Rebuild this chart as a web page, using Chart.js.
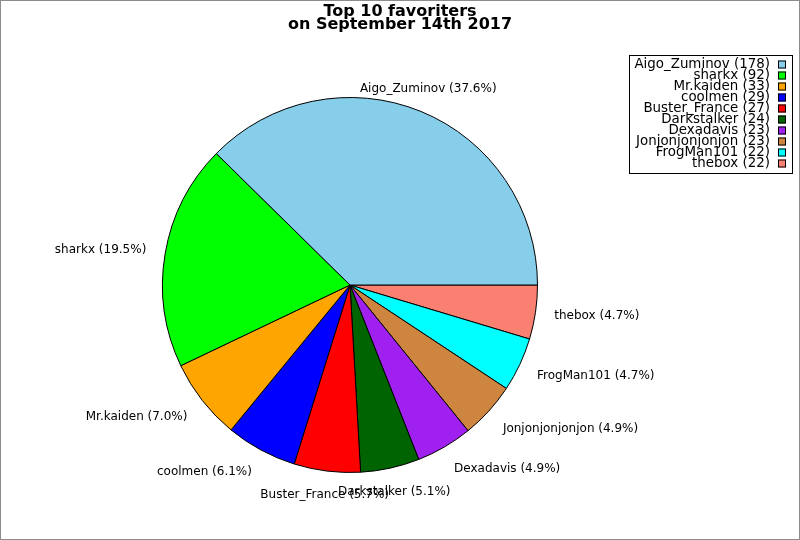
<!DOCTYPE html>
<html>
<head>
<meta charset="utf-8">
<title>Top 10 favoriters</title>
<script src="https://cdn.jsdelivr.net/npm/chart.js@4.4.1/dist/chart.umd.min.js"></script>
<style>
    html, body { margin: 0; padding: 0; background: #fff; }
    #wrap { width: 800px; height: 540px; }
</style>
</head>
<body>
<div id="wrap"><canvas id="myChart" width="800" height="540"></canvas></div>
<script>
const players = ['Aigo_Zuminov', 'sharkx', 'Mr.kaiden', 'coolmen', 'Buster_France',
    'Darkstalker', 'Dexadavis', 'Jonjonjonjonjon', 'FrogMan101', 'thebox'];
const favorites = [178, 92, 33, 29, 27, 24, 23, 23, 22, 22];
const sliceColors = ['#87ceeb', '#00ff00', '#ffa500', '#0000ff', '#ff0000',
    '#006400', '#a020f0', '#cd853f', '#00ffff', '#fa8072'];
const titleLines = ['Top 10 favoriters', 'on September 14th 2017'];

const total = favorites.reduce((a, b) => a + b, 0);
function pct(v) {
    return (v / total * 100).toFixed(1);
}

// the original goes counter-clockwise from 3 o'clock, chart.js goes clockwise,
// so the slices are handed over reversed and start at 90 deg
const revPlayers = players.slice().reverse();
const revFavorites = favorites.slice().reverse();
const revColors = sliceColors.slice().reverse();

const FONT = '"DejaVu Sans", Verdana, sans-serif';

const decorations = {
    id: 'decorations',
    afterDraw(chart) {
        const ctx = chart.ctx;
        const meta = chart.getDatasetMeta(0);
        ctx.save();

        // slice labels
        ctx.font = `12px ${FONT}`;
        ctx.fillStyle = '#000';
        ctx.textBaseline = 'alphabetic';
        meta.data.forEach((arc, i) => {
            const p = arc.getProps(['x', 'y', 'startAngle', 'endAngle', 'outerRadius'], true);
            const mid = (p.startAngle + p.endAngle) / 2;
            const r = p.outerRadius + 19;
            const xt = p.x + r * Math.cos(mid);
            const yt = p.y + r * Math.sin(mid);
            let a = (-mid * 180 / Math.PI) % 360;
            if (a < 0) a += 360;

            let align;
            if (Math.abs(a - 90) < 25 || Math.abs(a - 270) < 25) align = 'center';
            else if (Math.cos(mid) > 0) align = 'left';
            else align = 'right';

            let dy;
            if (a >= 315) dy = (a - 315) / 90;
            else if (a < 45) dy = (a + 45) / 90;
            else if (a < 135) dy = 1;
            else if (a < 225) dy = 1 - (a - 135) / 90;
            else dy = 0;

            ctx.textAlign = align;
            const txt = `${revPlayers[i]} (${pct(revFavorites[i])}%)`;
            ctx.fillText(txt, xt, yt + 8.5 - dy * 10.2);
        });

        // legend
        ctx.strokeStyle = '#000';
        ctx.lineWidth = 1;
        ctx.strokeRect(629.5, 55.5, 163, 118);
        ctx.font = `13.4px ${FONT}`;
        ctx.textAlign = 'right';
        players.forEach((name, i) => {
            const base = 68 + i * 11;
            ctx.fillStyle = '#000';
            ctx.fillText(`${name} (${favorites[i]})`, 770, base);
            ctx.fillStyle = sliceColors[i];
            ctx.fillRect(778, base - 7.5, 8, 8);
            ctx.strokeRect(778.5, base - 7, 7, 7);
        });

        // title
        ctx.font = `bold 16px ${FONT}`;
        ctx.textAlign = 'center';
        ctx.fillStyle = '#000';
        ctx.fillText(titleLines[0], 400, 16);
        ctx.fillText(titleLines[1], 400, 29);

        // image frame
        ctx.strokeStyle = '#8c8c8c';
        ctx.lineWidth = 2;
        ctx.strokeRect(0, 0, 800, 540);
        ctx.restore();
    }
};

const ctx = document.getElementById('myChart').getContext('2d');
const myChart = new Chart(ctx, {
    type: 'pie',
    data: {
        labels: revPlayers,
        datasets: [{
            data: revFavorites,
            backgroundColor: revColors,
            borderColor: '#000',
            borderWidth: 1
        }]
    },
    options: {
        responsive: false,
        animation: false,
        events: [],
        rotation: 90,
        layout: {
            padding: { left: 162, right: 262, top: 97, bottom: 67 }
        },
        plugins: {
            legend: { display: false },
            title: { display: false },
            tooltip: { enabled: false }
        }
    },
    plugins: [decorations]
});
</script>
</body>
</html>
